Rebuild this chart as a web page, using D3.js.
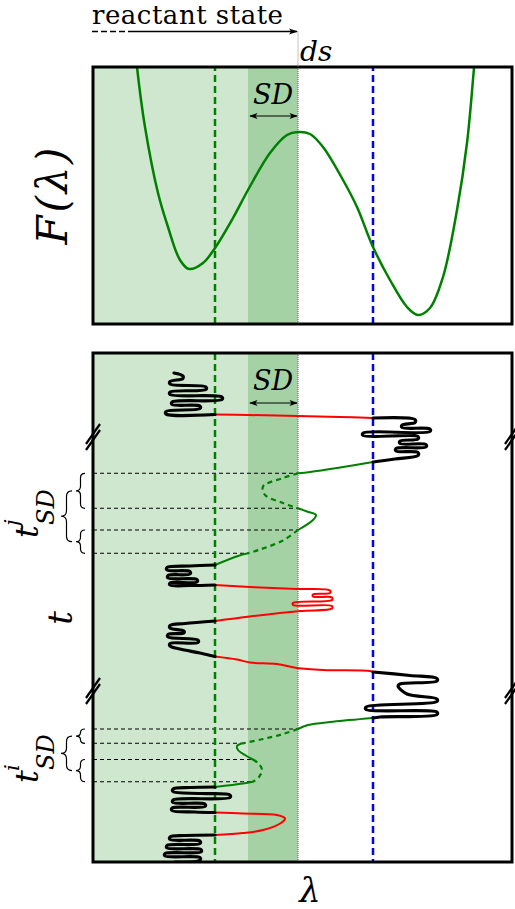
<!DOCTYPE html>
<html><head><meta charset="utf-8">
<script src="https://cdn.jsdelivr.net/npm/d3@7"></script>
<style>body{margin:0;background:#fff} svg{display:block}</style>
</head><body><svg id="c" width="515" height="909"></svg>
<script>
// ---------------- data ----------------
// free-energy profile F(lambda)
const energyLambda = [41, 44, 52, 65, 75, 87, 96, 110, 122, 140, 155, 177, 194, 205, 217, 230, 250, 264, 280, 297, 314, 325, 337, 350, 364, 374, 381, 384];
const energyF      = [290,257,197,131, 97, 64, 55,  61,  76, 106, 134, 171, 189, 192, 190, 177, 144, 117,  77,  44,  17,   9,  16,  47, 114, 181, 256, 290];
// characteristic lambda positions
const reactantEdge = 122;   // green dashed
const sdStart = 155;        // start of SD band
const dividingSurface = 205;// ds
const productEdge = 280;    // blue dashed
// trajectory pieces [lambda, t]
const trajA = [[81,20],[90,23],[90,25.5],[77,28.5],[77,31],[113,34],[113,36.5],[77,39],[77,41.5],[129,44],[129,46.5],[79,49],[79,51.5],[107,53],[107,55.5],[73,58.5],[73,61],[122,61.5]];
const failR1 = [[122,61.5],[155,62],[205,63],[247,64],[280,65]];
const trajB = [[280,65],[322,66.5],[322,69.5],[309,72],[309,74.5],[337,76],[337,78.5],[270,80],[270,82.5],[325,83.5],[325,86],[307,88],[307,90.5],[333,91.5],[333,94],[303,95.5],[303,98],[325,99.5],[325,102.5],[302,106],[280,109]];
const passJ1 = [[280,109],[244,115],[217,119],[205,120.3]];
const sdJ1 = [[205,120.3],[190,125],[170,133.5],[172,142],[190,150],[205,155.3]];
const passJ2 = [[205,155.3],[214,158.5],[223,162],[220,167],[205,177]];
const sdJ2 = [[205,177],[190,187.5],[167,196.5],[155,200.3]];
const passJ3 = [[155,200.3],[145,203],[122,212]];
const trajC = [[122,212],[97,213],[74,214.5],[74,217],[97,218.5],[97,221],[75,222.5],[75,225],[104,226.5],[104,229],[77,230],[77,232],[97,232.5],[122,232]];
const failR2 = [[122,232],[157,234],[204,236],[237,237.5],[237,240],[220,241.5],[220,243.5],[239,244.5],[239,247],[200,250],[200,252],[239,253],[239,255.5],[207,258],[157,263.5],[122,268]];
const trajD = [[122,268],[92,270.5],[77,272.5],[77,275],[91,278],[91,280],[75,281.5],[75,284],[105,287],[105,289.5],[77,290.5],[77,293],[87,296],[107,300],[122,303.5]];
const failR3 = [[122,303.5],[144,306.5],[157,309.5],[184,311],[204,315],[230,317],[277,318],[280,319]];
const trajE = [[280,319],[317,322.5],[344,325.5],[344,328],[307,331],[305,333],[314,341],[344,346],[344,348.5],[273,354],[273,356.5],[344,359],[344,361.5],[287,364],[280,365]];
const passI1 = [[280,365],[240,368.7],[215,372],[205,376]];
const sdI1 = [[205,376],[190,381],[170,386],[150,390.3]];
const passI2 = [[150,390.3],[144,393],[145,397],[152,402],[160,406.5]];
const sdI2 = [[160,406.5],[166,411],[169,417],[166,424],[160,428.7]];
const passI3 = [[160,428.7],[150,430.5],[122,434]];
const trajF = [[122,434],[97,434.5],[80,436],[80,438.5],[107,440.5],[137,442],[137,444.5],[80,447],[80,449.5],[112,451],[112,453.5],[79,455],[79,457.5],[102,459],[122,459.5]];
const failR4 = [[122,459.5],[150,460.5],[184,462],[192,465.5],[188,470],[170,477],[150,480],[122,482]];
const trajG = [[122,482],[92,482.5],[77,484],[77,486.5],[107,488],[107,490.5],[74,492.5],[74,495],[108,496.5],[108,499],[72,500.5],[72,503],[107,504.5],[107,507],[82,509]];
// SD time marks (where the path enters/leaves the SD region)
const guideJ = [[205,120.3],[205,155.3],[205,177],[155,200.3]];
const guideI = [[205,376],[150,390.3],[160,406.5],[160,428.7]];
// time axis breaks
const breakTimes = [84, 338];

// ---------------- setup ----------------
const svg = d3.select('#c');
const x = d3.scaleLinear().domain([0,420]).range([93,513]);
const yF = d3.scaleLinear().domain([0,257]).range([324,67]);
const yT = d3.scaleLinear().domain([0,509]).range([353,862]);
const GREEN = '#008000', BLUE = '#0000ff', RED = '#ff0000';
const serif = 'DejaVu Serif';

const defs = svg.append('defs');
defs.append('clipPath').attr('id','clipTop').append('rect')
  .attr('x',x(0)).attr('y',yF(257)).attr('width',x(420)-x(0)).attr('height',yF(0)-yF(257));
defs.append('clipPath').attr('id','clipBot').append('rect')
  .attr('x',x(0)).attr('y',yT(0)).attr('width',x(420)-x(0)).attr('height',yT(509)-yT(0));
defs.append('marker').attr('id','arr').attr('viewBox','0 0 10 10').attr('refX',9).attr('refY',5)
   .attr('markerWidth',7).attr('markerHeight',7).attr('orient','auto-start-reverse')
   .append('path').attr('d','M0,1.5 L10,5 L0,8.5 L2.5,5 Z').attr('fill','#000');

function panel(yScale, t0, t1){
  const g = svg.append('g');
  const y0 = Math.min(yScale(t0), yScale(t1)), h = Math.abs(yScale(t0)-yScale(t1));
  g.append('rect').attr('x',x(0)).attr('y',y0).attr('width',x(dividingSurface)-x(0))
    .attr('height',h).attr('fill',GREEN).attr('fill-opacity',0.19);
  g.append('rect').attr('x',x(sdStart)).attr('y',y0).attr('width',x(dividingSurface)-x(sdStart))
    .attr('height',h).attr('fill',GREEN).attr('fill-opacity',0.2);
}
// ---------- top panel ----------
panel(yF, 0, 257);
const gTop = svg.append('g').attr('clip-path','url(#clipTop)');
gTop.append('line').attr('x1',x(dividingSurface)).attr('x2',x(dividingSurface)).attr('y1',yF(0)).attr('y2',yF(257))
  .attr('stroke','#666').attr('stroke-width',1).attr('stroke-dasharray','1,1');
[[reactantEdge,GREEN],[productEdge,BLUE]].forEach(([l,c])=>{
  gTop.append('line').attr('x1',x(l)).attr('x2',x(l)).attr('y1',yF(0)).attr('y2',yF(257))
   .attr('stroke',c).attr('stroke-width',2.5).attr('stroke-dasharray','7,4');
});
const fLine = d3.line().x((d,i)=>x(energyLambda[i])).y(d=>yF(d)).curve(d3.curveCatmullRom.alpha(0.5));
gTop.append('path').attr('d',fLine(energyF)).attr('fill','none').attr('stroke',GREEN).attr('stroke-width',2.5);
svg.append('rect').attr('x',x(0)).attr('y',yF(257)).attr('width',x(420)-x(0)-1).attr('height',yF(0)-yF(257))
  .attr('fill','none').attr('stroke','#000').attr('stroke-width',3);

// ---------- bottom panel ----------
panel(yT, 0, 509);
const gBot = svg.append('g').attr('clip-path','url(#clipBot)');
gBot.append('line').attr('x1',x(dividingSurface)).attr('x2',x(dividingSurface)).attr('y1',yT(0)).attr('y2',yT(509))
  .attr('stroke','#666').attr('stroke-width',1).attr('stroke-dasharray','1,1');
[...guideJ, ...guideI].forEach(d=>{
  gBot.append('line').attr('x1',x(0)).attr('x2',x(d[0])).attr('y1',yT(d[1])).attr('y2',yT(d[1]))
   .attr('stroke','#000').attr('stroke-width',1.1).attr('stroke-dasharray','4,3');
});
[[reactantEdge,GREEN],[productEdge,BLUE]].forEach(([l,c])=>{
  gBot.append('line').attr('x1',x(l)).attr('x2',x(l)).attr('y1',yT(0)).attr('y2',yT(509))
   .attr('stroke',c).attr('stroke-width',2.5).attr('stroke-dasharray','7,4');
});
const tLine = d3.line().x(d=>x(d[0])).y(d=>yT(d[1])).curve(d3.curveCatmullRom.alpha(0.5));
const segs = [
  [failR1,RED,2,null],[failR2,RED,2,null],[failR3,RED,2,null],[failR4,RED,2,null],
  [passJ1,GREEN,2,null],[sdJ1,GREEN,2.2,'5,4'],[passJ2,GREEN,2,null],[sdJ2,GREEN,2.2,'5,4'],[passJ3,GREEN,2,null],
  [passI1,GREEN,2,null],[sdI1,GREEN,2.2,'5,4'],[passI2,GREEN,2,null],[sdI2,GREEN,2.2,'5,4'],[passI3,GREEN,2,null],
  [trajA,'#000',3.2,null],[trajB,'#000',3.2,null],[trajC,'#000',3.2,null],[trajD,'#000',3.2,null],
  [trajE,'#000',3.2,null],[trajF,'#000',3.2,null],[trajG,'#000',3.2,null]
];
segs.forEach(([pts,c,w,dash])=>{
  const p = gBot.append('path').attr('d',tLine(pts)).attr('fill','none').attr('stroke',c).attr('stroke-width',w)
    .attr('stroke-linecap','round').attr('stroke-linejoin','round');
  if(dash) p.attr('stroke-dasharray',dash).attr('stroke-linecap','butt');
});
svg.append('rect').attr('x',x(0)).attr('y',yT(0)).attr('width',x(420)-x(0)-1).attr('height',yT(509)-yT(0))
  .attr('fill','none').attr('stroke','#000').attr('stroke-width',3);

// breaks
breakTimes.forEach(tb=>{
  [x(0), x(420)-1].forEach(xb=>{
    const yb = yT(tb);
    [-3,3].forEach(o=>{
      svg.append('line').attr('x1',xb-7).attr('y1',yb+o+10).attr('x2',xb+7).attr('y2',yb+o-10)
        .attr('stroke','#000').attr('stroke-width',2.2);
    });
  });
});

// braces
function brace(xe, y1, y2, w){
  const ym=(y1+y2)/2, xm=xe-w/2, r=Math.min(w/2,(y2-y1)/4);
  return `M${xe},${y1} Q${xm},${y1} ${xm},${y1+r} L${xm},${ym-r} Q${xm},${ym} ${xe-w},${ym} Q${xm},${ym} ${xm},${ym+r} L${xm},${y2-r} Q${xm},${y2} ${xe},${y2}`;
}
[guideJ, guideI].forEach(gd=>{
  const t = gd.map(d=>yT(d[1]));
  svg.append('path').attr('d',brace(85,t[0],t[1],9)).attr('fill','none').attr('stroke','#000').attr('stroke-width',1.2);
  svg.append('path').attr('d',brace(85,t[2],t[3],9)).attr('fill','none').attr('stroke','#000').attr('stroke-width',1.2);
  svg.append('path').attr('d',brace(72,(t[0]+t[1])/2,(t[2]+t[3])/2,11)).attr('fill','none').attr('stroke','#000').attr('stroke-width',1.2);
});

// SD arrows and labels
[[yF(257)+49, yF(257)+37],[yT(0)+50, yT(0)+37]].forEach(([ya,yt])=>{
  svg.append('line').attr('x1',x(sdStart)+2).attr('x2',x(dividingSurface)-1).attr('y1',ya).attr('y2',ya)
    .attr('stroke','#000').attr('stroke-width',1.2).attr('marker-start','url(#arr)').attr('marker-end','url(#arr)');
  svg.append('text').attr('x',(x(sdStart)+x(dividingSurface))/2).attr('y',yt).attr('text-anchor','middle')
    .attr('font-family',serif).attr('font-style','italic').attr('font-size',27).text('SD');
});

// reactant state arrow
svg.append('line').attr('x1',92).attr('x2',133).attr('y1',31.5).attr('y2',31.5).attr('stroke','#000').attr('stroke-width',1.3).attr('stroke-dasharray','6,3');
svg.append('line').attr('x1',133).attr('x2',x(dividingSurface)-1).attr('y1',31.5).attr('y2',31.5).attr('stroke','#000').attr('stroke-width',1.3).attr('marker-end','url(#arr)');
svg.append('line').attr('x1',x(dividingSurface)).attr('x2',x(dividingSurface)).attr('y1',31.5).attr('y2',yF(257))
  .attr('stroke','#888').attr('stroke-width',1).attr('stroke-dasharray','1,1');
svg.append('text').attr('x',92).attr('y',24).attr('font-family',serif).attr('font-size',26).attr('textLength',191).text('reactant state');
svg.append('text').attr('x',300).attr('y',61).attr('font-family',serif).attr('font-style','italic').attr('font-size',28).text('ds');

// axis labels
svg.append('text').attr('transform','translate(67,196) rotate(-90)').attr('text-anchor','middle')
  .attr('font-family',serif).attr('font-style','italic').attr('font-size',42).attr('textLength',97).text('F(λ)');
svg.append('text').attr('x',310).attr('y',902).attr('text-anchor','middle')
  .attr('font-family',serif).attr('font-style','italic').attr('font-size',34).text('λ');
svg.append('text').attr('transform','translate(72,618) rotate(-90)').attr('text-anchor','middle')
  .attr('font-family',serif).attr('font-style','italic').attr('font-size',34).text('t');
function tsd(cx, cy, sup){
  const g = svg.append('g').attr('transform',`translate(${cx},${cy}) rotate(-90)`)
    .attr('font-family',serif).attr('font-style','italic');
  g.append('text').attr('x',0).attr('y',0).attr('font-size',32).text('t');
  g.append('text').attr('x',12).attr('y',-19).attr('font-size',21).text(sup);
  g.append('text').attr('x',13).attr('y',16).attr('font-size',24).text('SD');
}
tsd(38, 538, 'j');
tsd(38, 783, 'i');
</script></body></html>
